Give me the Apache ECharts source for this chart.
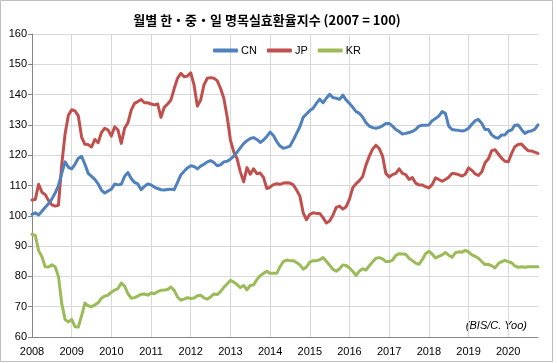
<!DOCTYPE html>
<html>
<head>
<meta charset="utf-8">
<script src="https://cdn.jsdelivr.net/npm/echarts@6/dist/echarts.min.js"></script>
<style>
html,body{margin:0;padding:0;background:#fff;}
#c{width:557px;height:363px;}
</style>
</head>
<body>
<div id="c"></div>
<script>
const titleText = '월별 한・중・일 명목실효환율지수 (2007 = 100)';
const seriesNames = ['CN', 'JP', 'KR'];
const startYear = 2008;
const monthCount = 154; // Jan 2008 .. Oct 2020
const yTicks = { min: 60, max: 160, interval: 10 };

const cn = [
100.5,101,100.3,101.5,102.8,104,105.5,107.5,110,114,
117.8,116,115.5,117,119,119.6,117,114,113,112,
110.5,108.5,107.5,108.2,108.8,110.5,110.2,110.4,113,114.3,
112.3,111,110.5,108.6,109.7,110.5,110.2,109.5,109,108.6,
108.5,108.7,108.8,108.6,111,113.5,114.7,115.8,116.5,116.3,
115.5,116.4,117,117.8,118.2,117.6,116.5,116.8,117.8,118,
118.7,119.7,121,122.4,123.8,124.8,125.5,125.8,125.2,124.2,
125,126.2,127.6,126.5,124.5,123,122.3,122.6,123,125,
127.2,129.4,132.5,133.6,134.7,135.5,137.1,138.5,137.3,138.8,
140.1,139,138.8,138.4,139.8,138.2,137.1,135.8,134.4,133.8,
132.5,130.7,129.6,129.1,128.9,129.2,129.7,130.5,130.5,129.6,
128.5,127.8,127,127.2,127.5,127.8,128.5,129.6,129.9,129.9,
130,131.4,132.1,132.9,134.4,133.8,129.6,128.5,128.3,128.2,
128,128.2,128.9,130.2,131.4,131.8,130.5,128.5,128.5,126.7,
125.9,125.6,126.7,126.7,128,128.3,129.9,130,128.5,127.2,
127.8,128,128.5,130
];

const jp = [
105.2,105.4,110.4,107.8,107,105,103.6,103.2,103.5,117,
127,133.2,135,134.6,133,126,123.6,123.5,122.7,125.2,
124.1,127.5,128.9,128.3,126.3,129.4,128.3,123.9,128.9,130.7,
134.9,137.1,137.7,138.4,137.3,137.3,136.9,136.6,136.9,132.5,
135.8,136.9,138.2,142,145.4,147,145.9,146.1,147.2,143.2,
136.2,138.2,143.2,145.4,145.6,145.4,144.6,142.1,138.8,132.7,
125,121.1,118.9,114.5,111.2,115.9,113.7,115.5,113.9,114.1,
112.7,109,109.5,110.3,110.6,110.4,110.8,110.9,110.8,110.2,
108.5,106.5,101,98.7,100.5,101,100.8,100.8,99.4,97.6,
98.3,100.2,102.8,103.2,102.2,103,105.5,109.3,110.6,111.6,
113,116.8,119.7,122,123.3,122.2,119.7,114,112.8,113.6,
114,115.5,114,113.6,112,112.6,110.8,110.2,110.2,109.6,
109.2,110.3,112.5,112,111.4,112,112.7,114,113.9,113.6,
113.1,113.7,115.8,115,113.8,113.3,114.5,117.5,118.8,121.5,
121.8,120.4,119,118,117.8,120.5,122.8,123.5,123.7,122.5,
121.5,121.4,121,120.6
];

const kr = [
93.9,93.5,88.5,86.5,83.2,83.1,83.8,83.2,80,71,
65.8,65,65.8,63.4,63.3,67,71.2,70.3,70,70.6,
71.3,72.8,73.5,73.8,74.8,75.5,76,77.8,76.8,74.3,
72.8,73,73.5,74.1,74.2,73.8,74.5,74.3,75,75.4,
75.5,75.7,76.5,75.4,73.2,72.2,72.5,73,72.7,72.9,
73.6,73.8,72.9,72.5,73.2,74.2,74,75,76.4,77.5,
78.7,78.1,77.3,76.3,77,75.6,77,77.2,79,80.2,
81,81.7,81,81,81,83.2,84.9,85.4,85.2,85.2,
84.6,83.8,82.4,83.1,84.7,85.2,85.2,85.5,86.2,85,
83.7,82.3,81.7,82.5,83.8,83.6,82.8,81.6,80.3,81.8,
82.5,82.1,83.5,84.8,86,86.2,85.8,84.9,84.9,85.4,
86.9,87.5,87.4,87.3,86,85.2,84.4,84,85.5,87.5,
88.3,87.4,86.1,86.6,87.1,87.9,87,86.3,87.8,88.1,
88,88.6,88.1,87.1,86.6,86,84.9,83.9,84,83.5,
82.8,84.2,84.9,85.3,84.9,84.5,83.5,83,83.2,83,
83.2,83.2,83.2,83.2
];

const months = [];
for (let i = 0; i < monthCount; i++) {
  const y = startYear + Math.floor(i / 12);
  const m = (i % 12) + 1;
  months.push(y + '-' + (m < 10 ? '0' + m : m));
}

const colors = ['#4F81BD', '#C0504D', '#9BBB59'];
const values = [cn, jp, kr];
const fontFam = '"Liberation Sans", Arial, sans-serif';

const chart = echarts.init(document.getElementById('c'), null, { renderer: 'canvas' });
chart.setOption({
  animation: false,
  backgroundColor: '#fff',
  color: colors,
  grid: { left: 32, right: 19, top: 34, bottom: 26, containLabel: false },
  legend: {
    left: 208, top: 40,
    itemWidth: 25, itemHeight: 4, itemGap: 10,
    icon: 'roundRect',
    textStyle: { fontFamily: fontFam, fontSize: 11, color: '#000', padding: [0,0,0,-2] },
    data: seriesNames
  },
  xAxis: {
    type: 'category',
    data: months,
    boundaryGap: false,
    axisLine: { show: true, lineStyle: { color: '#868686', width: 1 } },
    axisTick: { show: false },
    axisLabel: {
      interval: function (i) { return i % 12 === 0; },
      formatter: function (v) { return v.slice(0, 4); },
      margin: 9, fontFamily: fontFam, fontSize: 11, color: '#000'
    },
    splitLine: {
      show: true,
      interval: function (i) { return i % 12 === 0; },
      lineStyle: { color: '#d9d9d9', width: 1 }
    }
  },
  yAxis: {
    type: 'value',
    min: yTicks.min, max: yTicks.max, interval: yTicks.interval,
    axisLine: { show: true, lineStyle: { color: '#868686', width: 1 } },
    axisTick: { show: true, length: 4, lineStyle: { color: '#868686' } },
    axisLabel: { margin: 5, fontFamily: fontFam, fontSize: 11, color: '#000' },
    splitLine: { show: true, lineStyle: { color: '#d9d9d9', width: 1 } }
  },
  series: seriesNames.map(function (n, k) {
    return {
      name: n, type: 'line', data: values[k],
      showSymbol: false, symbol: 'none',
      lineStyle: { width: 3, color: colors[k], cap: 'round', join: 'round' },
      itemStyle: { color: colors[k] },
      z: 3 - k
    };
  }),
  graphic: [
    { type: 'rect', shape: { x: 0.5, y: 0.5, width: 552, height: 361 },
      style: { fill: 'none', stroke: '#bfbfbf', lineWidth: 1 }, silent: true },
    { type: 'text', x: 267, y: 20,
      style: { text: titleText, textAlign: 'center', textVerticalAlign: 'middle',
        font: 'bold 13px "Noto Sans CJK KR", sans-serif', fill: '#000' } },
    { type: 'text', x: 527, y: 326,
      style: { text: '(BIS/C. Yoo)', textAlign: 'right', textVerticalAlign: 'middle',
        font: 'italic 11px "Liberation Sans", Arial, sans-serif', fill: '#000' } }
  ]
});
</script>
</body>
</html>
